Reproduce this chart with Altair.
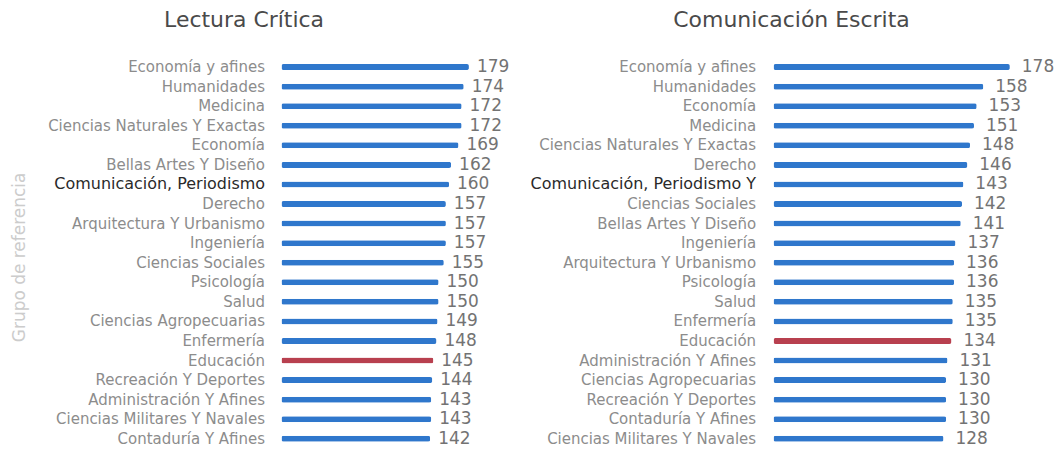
import altair as alt
import pandas as pd

lc_grupos = [
    "Economía y afines", "Humanidades", "Medicina", "Ciencias Naturales Y Exactas",
    "Economía", "Bellas Artes Y Diseño", "Comunicación, Periodismo", "Derecho",
    "Arquitectura Y Urbanismo", "Ingeniería", "Ciencias Sociales", "Psicología",
    "Salud", "Ciencias Agropecuarias", "Enfermería", "Educación",
    "Recreación Y Deportes", "Administración Y Afines", "Ciencias Militares Y Navales",
    "Contaduría Y Afines",
]
lc_valores = [179, 174, 172, 172, 169, 162, 160, 157, 157, 157, 155, 150, 150, 149, 148, 145, 144, 143, 143, 142]

ce_grupos = [
    "Economía y afines", "Humanidades", "Economía", "Medicina",
    "Ciencias Naturales Y Exactas", "Derecho", "Comunicación, Periodismo Y",
    "Ciencias Sociales", "Bellas Artes Y Diseño", "Ingeniería",
    "Arquitectura Y Urbanismo", "Psicología", "Salud", "Enfermería", "Educación",
    "Administración Y Afines", "Ciencias Agropecuarias", "Recreación Y Deportes",
    "Contaduría Y Afines", "Ciencias Militares Y Navales",
]
ce_valores = [178, 158, 153, 151, 148, 146, 143, 142, 141, 137, 136, 136, 135, 135, 134, 131, 130, 130, 130, 128]

resaltado = "Educación"
FONT = "DejaVu Sans"
BLUE = "#2f77cc"
RED = "#b8404f"


def panel(grupos, valores, titulo, xmax, width, label_pad, text_dx, title_dx, ytitle):
    df = pd.DataFrame({"grupo": grupos, "valor": valores})
    df["tipo"] = ["res" if g == resaltado else "otro" for g in grupos]
    axis_kwargs = dict(
        domain=False, ticks=False, grid=False,
        labelPadding=label_pad, labelFont=FONT, labelLimit=400,
        labelFontSize={"condition": {"test": "indexof(datum.value, 'Comunicación') == 0", "value": 16}, "value": 15},
        labelColor={"condition": {"test": "indexof(datum.value, 'Comunicación') == 0", "value": "#2a2a2a"}, "value": "#8c8c8c"},
    )
    if ytitle:
        axis_kwargs.update(
            title=ytitle, titleFont=FONT, titleFontSize=17, titleFontWeight="normal",
            titleColor="#cccccc", titleX=-262, titleY=200, titleBaseline="middle",
            titleAngle=270,
        )
    else:
        axis_kwargs.update(title=None)
    base = alt.Chart(df).encode(
        y=alt.Y("grupo:N", sort=grupos, axis=alt.Axis(**axis_kwargs),
                scale=alt.Scale(paddingInner=0, paddingOuter=0)),
        x=alt.X("valor:Q", scale=alt.Scale(domain=[0, xmax], nice=False), axis=None),
    )
    bars = base.mark_bar(size=6, cornerRadius=2).encode(
        color=alt.Color("tipo:N", scale=alt.Scale(domain=["otro", "res"], range=[BLUE, RED]), legend=None)
    )
    text = base.mark_text(align="left", baseline="middle", dx=text_dx, font=FONT,
                          fontSize=17, color="#737373").encode(text="valor:Q")
    return alt.layer(bars, text).properties(
        width=width, height=392,
        title=alt.TitleParams(titulo, font=FONT, fontSize=22, fontWeight="normal",
                              color="#4a4a4a", frame="group", anchor="middle",
                              dx=title_dx, offset=25),
    )


left = panel(lc_grupos, lc_valores, "Lectura Crítica", 224, 235, 17, 8, -155, "Grupo de referencia")
right = panel(ce_grupos, ce_valores, "Comunicación Escrita", 203, 270, 18, 12, -117, None)

chart = alt.hconcat(left, right, spacing=13).properties(
    padding={"left": 3, "top": 1, "right": 0, "bottom": 0},
    background="white",
).configure_view(strokeWidth=0, stroke=None)

chart.save("out.html", embed_options={"renderer": "svg", "actions": False})
